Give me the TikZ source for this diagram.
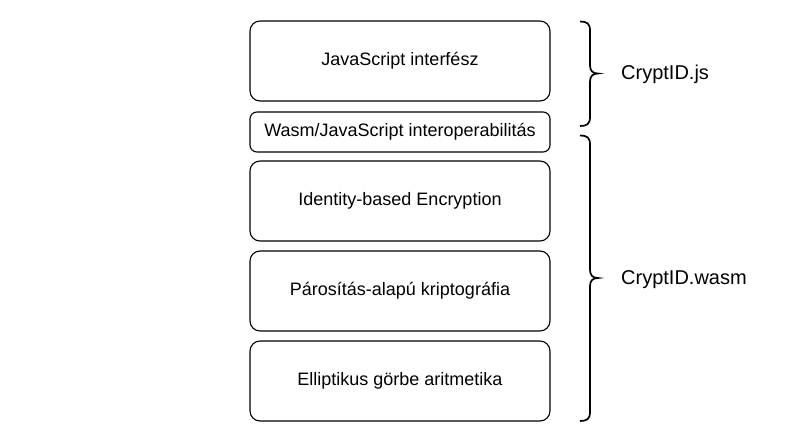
\documentclass[tikz,border=0pt]{standalone}
\usepackage{fontspec}
\setmainfont{Liberation Sans}
\begin{document}
\begin{tikzpicture}[x=1pt,y=-1pt,
  layerbox/.style={draw=black,line width=1.1pt,rounded corners=10pt,minimum width=300pt,minimum height=80pt,inner sep=0pt,
    font=\fontsize{18}{21}\selectfont,text height=13pt,text depth=4pt},
  thinbox/.style={layerbox,minimum height=40pt,rounded corners=7pt},
  bracestroke/.style={draw=black,line width=1.7pt},
  sidelabel/.style={anchor=base west,inner sep=0pt,font=\fontsize{20}{24}\selectfont}]
\useasboundingbox (0,0) rectangle (800,442);
\node[layerbox] (js) at (400,61) {JavaScript interfész};
\node[thinbox] (interop) at (400,132) {Wasm/JavaScript interoperabilitás};
\node[layerbox] (ibe) at (400,201) {Identity-based Encryption};
\node[layerbox] (pair) at (400,291) {Párosítás-alapú kriptográfia};
\node[layerbox] (ecc) at (400,381) {Elliptikus görbe aritmetika};
% brace 1
\draw[bracestroke] (580,21.5) .. controls (587,21.5) and (590,23.5) .. (590,30.5) -- (590,65.5)
  .. controls (590,71) and (593,73.5) .. (598,73.5)
  .. controls (593,73.5) and (590,76) .. (590,81.5) -- (590,117)
  .. controls (590,124) and (587,126) .. (580,126);
% brace 2
\draw[bracestroke] (580,135.5) .. controls (587,135.5) and (590,137.5) .. (590,144.5) -- (590,270)
  .. controls (590,275.5) and (593,278) .. (598,278)
  .. controls (593,278) and (590,280.5) .. (590,286) -- (590,412)
  .. controls (590,419) and (587,421) .. (580,421);
\node[sidelabel] (lbljs) at (621,79.5) {CryptID.js};
\node[sidelabel] (lblwasm) at (621,284.5) {CryptID.wasm};
\end{tikzpicture}
\end{document}
